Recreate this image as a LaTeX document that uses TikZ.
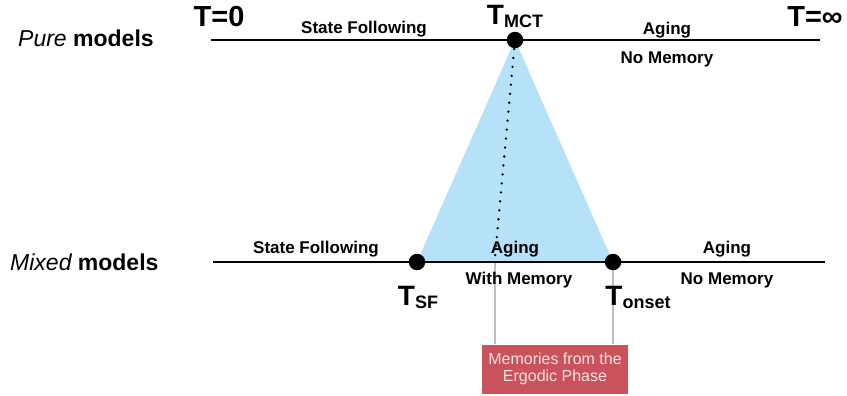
\documentclass[tikz,border=0pt]{standalone}
\usepackage{fontspec}
\setmainfont{Liberation Sans}
\definecolor{triblue}{RGB}{181,226,248}
\definecolor{memred}{RGB}{201,82,92}
\definecolor{memtext}{RGB}{250,228,228}
\definecolor{guide}{RGB}{190,190,190}
\newcommand{\fs}[1]{\fontsize{#1}{#1}\selectfont}
\newcommand{\Tsub}[1]{{\fs{28}\bfseries T}\raisebox{-3pt}{\fs{18}\bfseries #1}}
\begin{document}
\begin{tikzpicture}[x=1pt,y=-1pt,
  axis/.style={line width=1.8pt,black},
  dot/.style={circle,fill=black,inner sep=0pt,minimum size=16.5pt},
  lbl/.style={anchor=base,inner sep=0pt,font=\fs{17}\bfseries},
  big/.style={anchor=base,inner sep=0pt,font=\fs{29}\bfseries},
  model/.style={anchor=base west,inner sep=0pt,font=\fs{23}},
  guideline/.style={guide,line width=2pt},
  membox/.style={fill=memred,text=memtext,minimum width=146pt,minimum height=49pt,inner sep=0pt,align=center,font=\fs{16}\linespread{1.1}\selectfont}]
\useasboundingbox (0,0) rectangle (847,396);
% coordinates
\coordinate (tl) at (211,40);
\coordinate (tr) at (820,40);
\coordinate (bl) at (213,262);
\coordinate (br) at (825,262);
\coordinate (apex) at (515,40);
\coordinate (bsf) at (417,262);
\coordinate (bon) at (613,262);
\coordinate (g1) at (495,262);
\coordinate (dend) at (495,257);
% triangle
\fill[triblue] (apex) -- (bsf) -- (bon) -- cycle;
% memory box and guides
\node[membox] (mem) at (555,369) {Memories from the\\Ergodic Phase};
\draw[guideline] (g1) -- (g1 |- mem.north);
\draw[guideline] (bon) -- (bon |- mem.north);
% axes
\draw[axis] (tl) -- (tr);
\draw[axis] (bl) -- (br);
% dotted
\draw[line width=2.6pt,line cap=round,dash pattern=on 0pt off 9pt] (apex) -- (dend);
% dots
\node[dot] (mct) at (apex) {};
\node[dot] (sf) at (bsf) {};
\node[dot] (onset) at (bon) {};
% labels top
\node[model] (pure) at (18,47) {{\itshape Pure} {\bfseries models}};
\node[big] (t0) at (219,27) {T=0};
\node[big] (tinf) at (815,27) {T=∞};
\node[lbl] (sftop) at (364,34) {State Following};
\node[anchor=base,inner sep=0pt] (tmct) at (515,25) {\Tsub{MCT}};
\node[lbl] (agtop) at (667,35) {Aging};
\node[lbl] (nmtop) at (667,64) {No Memory};
% labels bottom
\node[model] (mixed) at (10,270) {{\itshape Mixed} {\bfseries models}};
\node[lbl] (sfbot) at (316,253) {State Following};
\node[lbl] (agmid) at (515,253) {Aging};
\node[lbl] (wm) at (519,284) {With Memory};
\node[lbl] (agbot) at (727,253) {Aging};
\node[lbl] (nmbot) at (727,284) {No Memory};
\node[anchor=base,inner sep=0pt] (tsf) at (418,305) {\Tsub{SF}};
\node[anchor=base,inner sep=0pt] (tons) at (638,305) {\Tsub{onset}};
\end{tikzpicture}
\end{document}
